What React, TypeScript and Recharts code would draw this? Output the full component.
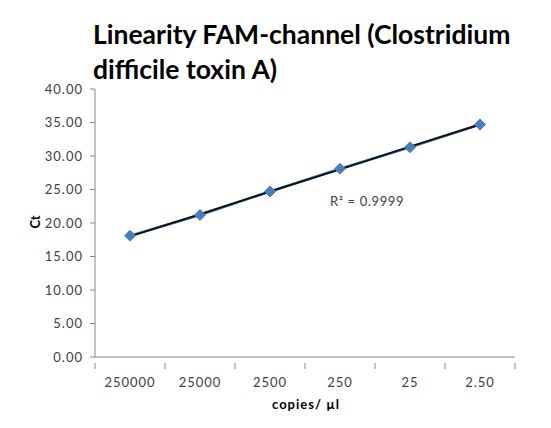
import React from "react";
import { LineChart, Line, XAxis, YAxis } from "recharts";

const categories = ["250000", "25000", "2500", "250", "25", "2.50"];
const ctValues = [18.1, 21.2, 24.7, 28.1, 31.3, 34.7];
const trendValues = [18.0, 21.3, 24.7, 28.0, 31.4, 34.7];
const yTicks = [0, 5, 10, 15, 20, 25, 30, 35, 40];
const xTicks = [0, 0.5, 1, 1.5, 2, 2.5, 3, 3.5, 4, 4.5, 5, 5.5, 6];

const data = categories.map((c, i) => ({
  x: i + 0.5,
  label: c,
  ct: ctValues[i],
  trend: trendValues[i],
}));

const FONT = "Lato, 'Open Sans', sans-serif";

const Diamond = (props: any) => {
  const { cx, cy, index } = props;
  if (cx == null || cy == null) return null;
  const s = 5.5;
  return (
    <polygon
      key={`d${index}`}
      points={`${cx},${cy - s} ${cx + s},${cy} ${cx},${cy + s} ${cx - s},${cy}`}
      fill="#4A7EBB"
      stroke="#4A7EBB"
      strokeWidth={1}
    />
  );
};

const XTick = (props: any) => {
  const { x, y, payload } = props;
  const v = payload.value as number;
  if (Number.isInteger(v)) {
    return <line x1={x} x2={x} y1={y - 2} y2={y + 4} stroke="#868686" strokeWidth={1} />;
  }
  const idx = Math.floor(v);
  return (
    <text x={x} y={y + 22} textAnchor="middle" fontSize={13} letterSpacing={1} fill="#404040" fontFamily={FONT}>
      {categories[idx]}
    </text>
  );
};

export default function App() {
  return (
    <div style={{ position: "relative", width: 551, height: 428, margin: -8, background: "#fff" }}>
      <div style={{ position: "absolute", left: 0, top: 0 }}>
        <LineChart width={551} height={428} data={data} margin={{ top: 89, right: 36, bottom: 0, left: 0 }}>
          <XAxis
            dataKey="x"
            type="number"
            domain={[0, 6]}
            ticks={xTicks}
            interval={0}
            tick={<XTick />}
            tickLine={false}
            axisLine={{ stroke: "#868686" }}
            height={71}
          />
          <YAxis
            domain={[0, 40]}
            ticks={yTicks}
            interval={0}
            width={95}
            tickFormatter={(v: number) => v.toFixed(2)}
            tick={{ fontSize: 13, fill: "#404040", fontFamily: FONT, letterSpacing: 1 }}
            tickLine={{ stroke: "#868686" }}
            tickSize={5}
            tickMargin={7}
            axisLine={{ stroke: "#868686" }}
          />
          <Line
            dataKey="ct"
            stroke="#4A7EBB"
            strokeWidth={2.5}
            dot={<Diamond />}
            isAnimationActive={false}
          />
          <Line
            dataKey="trend"
            stroke="#111111"
            strokeWidth={2}
            dot={false}
            isAnimationActive={false}
          />
        </LineChart>
      </div>
      <div style={{ position: "absolute", left: 6, top: 2, width: 545, height: 2, background: "#7a7a7a" }} />
      <div style={{ position: "absolute", left: 6, top: 2, width: 2, height: 426, background: "#7a7a7a" }} />
      <div style={{ position: "absolute", left: 8, top: 426, width: 543, height: 1, background: "#dcdcdc" }} />
      <div
        style={{
          position: "absolute",
          left: 93,
          top: 17,
          fontFamily: FONT,
          fontWeight: 700,
          fontSize: 26.5,
          lineHeight: "35px",
          color: "#000",
          whiteSpace: "nowrap",
        }}
      >
        Linearity FAM-channel (Clostridium
        <br />
        difficile toxin A)
      </div>
      <div
        style={{
          position: "absolute",
          left: 330,
          top: 193,
          fontFamily: FONT,
          fontSize: 13,
          letterSpacing: 0.6,
          color: "#404040",
          whiteSpace: "nowrap",
        }}
      >
        R² = 0.9999
      </div>
      <div
        style={{
          position: "absolute",
          left: 306,
          top: 396,
          transform: "translateX(-50%)",
          fontFamily: FONT,
          fontWeight: 700,
          fontSize: 13,
          letterSpacing: 1,
          color: "#000",
          whiteSpace: "nowrap",
        }}
      >
        copies/ µl
      </div>
      <div
        style={{
          position: "absolute",
          left: 35,
          top: 222,
          transform: "translate(-50%, -50%) rotate(-90deg)",
          fontFamily: FONT,
          fontWeight: 700,
          fontSize: 13,
          color: "#000",
          whiteSpace: "nowrap",
        }}
      >
        Ct
      </div>
    </div>
  );
}
